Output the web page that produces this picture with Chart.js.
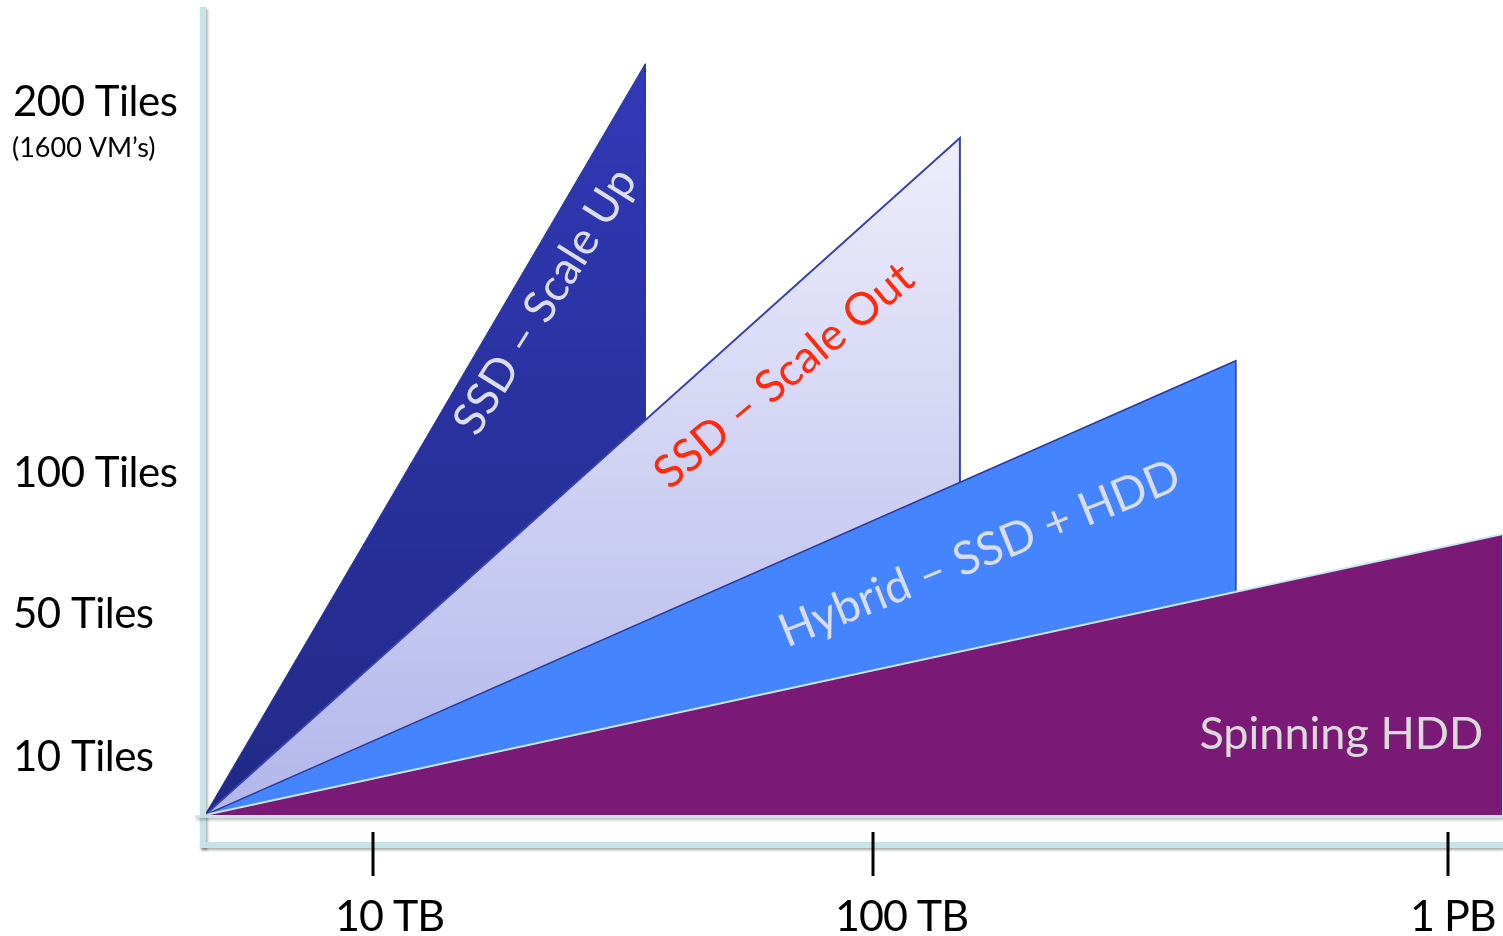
<!DOCTYPE html>
<html>
<head>
<meta charset="utf-8">
<script src="https://cdn.jsdelivr.net/npm/chart.js@4"></script>
<style>
  html, body { margin: 0; padding: 0; background: #ffffff; }
  #wrap { width: 1503px; height: 936px; }
</style>
</head>
<body>
<div id="wrap"><canvas id="chart" width="1503" height="936"></canvas></div>
<script>
// ---- Data -------------------------------------------------------------
const seriesNames     = ['SSD – Scale Up', 'SSD – Scale Out', 'Hybrid – SSD + HDD', 'Spinning HDD'];
const capacityTB      = [59, 236, 668, 1086];   // capacity where each wedge tops out
const tilesAtCapacity = [210, 190, 130, 78];    // tiles supported at that capacity

const xTickValues = [10, 100, 1000];
const xTickLabels = ['10 TB', '100 TB', '1 PB'];
const yTickValues = [10, 50, 100, 200];
const yTickLabels = ['10 Tiles', '50 Tiles', '100 Tiles', '200 Tiles'];
const yTickNotes  = ['', '', '', '(1600 VM’s)'];

// ---- Styling ----------------------------------------------------------
const wedgeStyles = [
  { fill: ['#3139B7', '#212986'], border: '#2C34A8', width: 1 },
  { fill: ['#EDEDFB', '#B2B6EA'], border: '#3942AE', width: 2 },
  { fill: ['#4484FF', '#4484FF'], border: '#2B3A9E', width: 1.5 },
  { fill: ['#7B1A76', '#7B1A76'], border: '#CDE8EC', width: 2 }
];
// text placed inside each wedge (value coordinates + rotation)
const wedgeText = [
  { x: 41,  y: 146, angle: -58, color: '#DCDCEA', size: 45 },
  { x: 84,  y: 126, angle: -40, color: '#FF2A0C', size: 45 },
  { x: 267, y: 71,  angle: -22, color: '#D9DCEC', size: 46 },
  { x: 833, y: 16,  angle: 0,   color: '#DADADA', size: 45 }
];

// ---- A linear scale whose segments between breakpoints get fixed shares
class BrokenLinearScale extends Chart.LinearScale {
  _toDecimal(v) {
    const b = this.options.breaks, s = this.options.stops;
    if (v <= b[0]) return s[0];
    for (let i = 1; i < b.length; i++) {
      if (v <= b[i] || i === b.length - 1) {
        return s[i - 1] + (v - b[i - 1]) / (b[i] - b[i - 1]) * (s[i] - s[i - 1]);
      }
    }
    return 1;
  }
  getPixelForValue(value) {
    return this.getPixelForDecimal(this._toDecimal(value));
  }
  getValueForPixel(pixel) {
    const d = this.getDecimalForPixel(pixel);
    const b = this.options.breaks, s = this.options.stops;
    for (let i = 1; i < s.length; i++) {
      if (d <= s[i] || i === s.length - 1) {
        return b[i - 1] + (d - s[i - 1]) / (s[i] - s[i - 1]) * (b[i] - b[i - 1]);
      }
    }
    return b[b.length - 1];
  }
}
BrokenLinearScale.id = 'brokenLinear';
BrokenLinearScale.defaults = Chart.LinearScale.defaults;
Chart.register(BrokenLinearScale);

const FONT = 'Lato, "Open Sans", sans-serif';

function wedgeGradient(i) {
  return (ctx) => {
    const chart = ctx.chart;
    const area = chart.chartArea;
    const c = wedgeStyles[i].fill;
    if (!area || !chart.scales.y) return c[1];
    const top = chart.scales.y.getPixelForValue(tilesAtCapacity[i]);
    const g = chart.ctx.createLinearGradient(0, top, 0, area.bottom);
    g.addColorStop(0, c[0]);
    g.addColorStop(1, c[1]);
    return g;
  };
}

const datasets = seriesNames.map((name, i) => ({
  label: name,
  data: [
    { x: 0, y: 0 },
    { x: capacityTB[i], y: tilesAtCapacity[i] },
    { x: capacityTB[i], y: 0 }
  ],
  fill: 'origin',
  backgroundColor: wedgeGradient(i),
  borderColor: wedgeStyles[i].border,
  borderWidth: wedgeStyles[i].width,
  pointRadius: 0,
  tension: 0,
  order: seriesNames.length - i
}));

// axes, ticks and axis labels
const framePlugin = {
  id: 'frame',
  afterDatasetsDraw(chart) {
    const { ctx, chartArea: a, scales: { x, y } } = chart;
    ctx.save();
    ctx.lineCap = 'butt';
    ctx.strokeStyle = '#C6E4E8';
    ctx.shadowColor = 'rgba(0,0,0,0.35)';
    ctx.shadowBlur = 3;
    ctx.shadowOffsetX = 1.5;
    ctx.shadowOffsetY = 2;

    // vertical axis
    ctx.lineWidth = 6;
    ctx.beginPath();
    ctx.moveTo(a.left - 2, a.top - 1);
    ctx.lineTo(a.left - 2, a.bottom + 33);
    ctx.stroke();

    // horizontal axis
    ctx.beginPath();
    ctx.moveTo(a.left - 5, a.bottom + 30);
    ctx.lineTo(a.right, a.bottom + 30);
    ctx.stroke();

    // base line under the wedges
    ctx.lineWidth = 2.5;
    ctx.beginPath();
    ctx.moveTo(a.left - 10, a.bottom + 1.5);
    ctx.lineTo(a.right, a.bottom + 1.5);
    ctx.stroke();
    ctx.restore();

    // tick marks and capacity labels
    ctx.save();
    ctx.strokeStyle = '#000000';
    ctx.lineWidth = 3;
    ctx.fillStyle = '#000000';
    ctx.font = '43px ' + FONT;
    ctx.letterSpacing = '-1px';
    ctx.textAlign = 'left';
    ctx.textBaseline = 'alphabetic';
    xTickValues.forEach((v, i) => {
      const px = x.getPixelForValue(v);
      ctx.beginPath();
      ctx.moveTo(px, a.bottom + 17);
      ctx.lineTo(px, a.bottom + 61);
      ctx.stroke();
      ctx.fillText(xTickLabels[i], px - 38, a.bottom + 116);
    });

    // tile labels
    yTickValues.forEach((v, i) => {
      const py = y.getPixelForValue(v);
      ctx.font = '42px ' + FONT;
      ctx.letterSpacing = '-0.5px';
      ctx.fillText(yTickLabels[i], 13, py + 15);
      if (yTickNotes[i]) {
        ctx.font = '27px ' + FONT;
        ctx.letterSpacing = '0px';
        ctx.fillText(yTickNotes[i], 12, py + 56);
      }
    });
    ctx.restore();

    // wedge names
    ctx.save();
    ctx.textAlign = 'center';
    ctx.textBaseline = 'middle';
    wedgeText.forEach((t, i) => {
      ctx.save();
      ctx.font = t.size + 'px ' + FONT;
      ctx.translate(x.getPixelForValue(t.x), y.getPixelForValue(t.y));
      ctx.rotate(t.angle * Math.PI / 180);
      ctx.fillStyle = t.color;
      ctx.fillText(seriesNames[i], 0, 0);
      ctx.restore();
    });
    ctx.restore();
  }
};

new Chart(document.getElementById('chart'), {
  type: 'line',
  data: { datasets },
  options: {
    responsive: false,
    animation: false,
    events: [],
    layout: { padding: { left: 205, right: 0, top: 8, bottom: 121 } },
    plugins: {
      legend: { display: false },
      tooltip: { enabled: false }
    },
    scales: {
      x: {
        type: 'brokenLinear',
        display: false,
        min: 0,
        max: 1086,
        breaks: [0, 10, 100, 1000, 1086],
        stops: [0, 0.12943, 0.51464, 0.95763, 1]
      },
      y: {
        type: 'brokenLinear',
        display: false,
        min: 0,
        max: 225,
        breaks: [0, 10, 50, 100, 200, 225],
        stops: [0, 0.07311, 0.25031, 0.42503, 0.88476, 1]
      }
    }
  },
  plugins: [framePlugin]
});
</script>
</body>
</html>
